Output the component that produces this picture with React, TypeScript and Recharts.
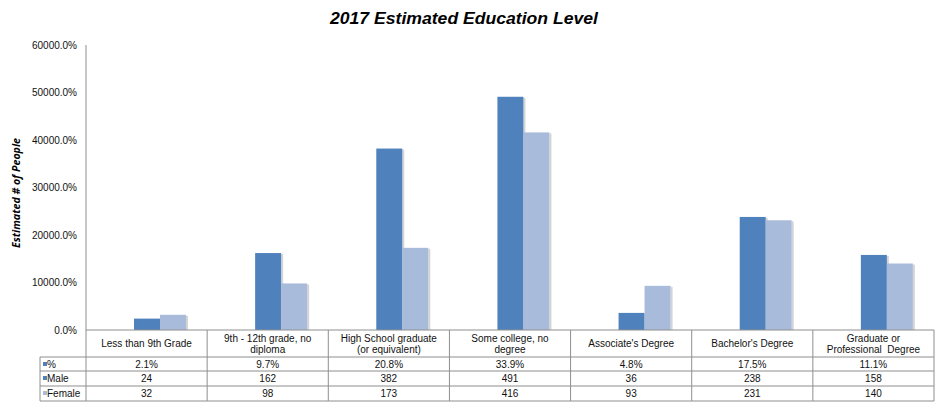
// App.tsx
import React from 'react';
import { Bar, BarChart, XAxis, YAxis } from 'recharts';

const categories = [
  'Less than 9th Grade',
  '9th - 12th grade, no\ndiploma',
  'High School graduate\n(or equivalent)',
  'Some college, no\ndegree',
  "Associate's Degree",
  "Bachelor's Degree",
  'Graduate or\nProfessional  Degree',
];
const pctShare = [0.021, 0.097, 0.208, 0.339, 0.048, 0.175, 0.111];
const maleCounts = [24, 162, 382, 491, 36, 238, 158];
const femaleCounts = [32, 98, 173, 416, 93, 231, 140];
const yTicks = [0, 100, 200, 300, 400, 500, 600];

const seriesRows = [
  { key: 'pct', label: '%', color: '#4F81BD' },
  { key: 'male', label: 'Male', color: '#4F81BD' },
  { key: 'female', label: 'Female', color: '#A9BBDB' },
];

const data = categories.map((name, i) => ({
  name,
  pct: pctShare[i],
  male: maleCounts[i],
  female: femaleCounts[i],
}));

const CHART_W = 941;
const CHART_H = 402;
const Y_AXIS_W = 86;
const X_AXIS_H = 72;
const MARGIN = { top: 45, right: 7, bottom: 0, left: 0 };
const COL_W = (CHART_W - Y_AXIS_W - MARGIN.right - MARGIN.left) / categories.length;
const BORDER = '#8e8e8e';
const FONT = "'Liberation Sans', Arial, sans-serif";

const fmtPct = (v: number) => `${(v * 100).toFixed(1)}%`;

// rows of the data table under the axis, relative to the axis line
const ROW_TOPS = [27, 41, 56];
const TABLE_BOTTOM = 71;

const TableTick = (props: any) => {
  const { x, y, payload, index } = props;
  const left = x - COL_W / 2;
  const right = x + COL_W / 2;
  const lines = String(payload.value).split('\n');
  const row = data[index];
  const values = [fmtPct(row.pct), String(row.male), String(row.female)];

  return (
    <g fontFamily={FONT} fontSize={10} fill="#111">
      {lines.map((ln, i) => (
        <text
          key={i}
          x={x}
          y={y + (lines.length === 1 ? 17 : 12 + i * 11)}
          textAnchor="middle"
          style={{ whiteSpace: 'pre' }}
        >
          {ln}
        </text>
      ))}
      {values.map((v, i) => (
        <text key={'v' + i} x={x} y={y + ROW_TOPS[i] + 11} textAnchor="middle">
          {v}
        </text>
      ))}
      <line x1={right} x2={right} y1={y} y2={y + TABLE_BOTTOM} stroke={BORDER} />
      {index === 0 && <line x1={left} x2={left} y1={y} y2={y + TABLE_BOTTOM} stroke={BORDER} />}
      {[...ROW_TOPS, TABLE_BOTTOM].map((ry, i) => (
        <line
          key={'h' + i}
          x1={index === 0 ? 40 : left}
          x2={right}
          y1={y + ry}
          y2={y + ry}
          stroke={BORDER}
        />
      ))}
      {index === 0 && (
        <g>
          <line x1={40} x2={40} y1={y + ROW_TOPS[0]} y2={y + TABLE_BOTTOM} stroke={BORDER} />
          {seriesRows.map((s, i) => (
            <g key={s.key}>
              <rect x={43} y={y + ROW_TOPS[i] + 5} width={4} height={4} fill={s.color} />
              <text x={47} y={y + ROW_TOPS[i] + 11}>
                {s.label}
              </text>
            </g>
          ))}
        </g>
      )}
    </g>
  );
};

const ShadowBar = (props: any) => {
  const { x, y, width, height, fill } = props;
  if (!height || height < 0.5) return null;
  return (
    <g>
      <rect x={x + width} y={y + 1} width={2} height={height - 1} fill="#d4d4d4" />
      <rect x={x} y={y} width={width} height={height} fill={fill} />
    </g>
  );
};

const App: React.FC = () => {
  return (
    <div style={{ position: 'absolute', left: 0, top: 0, width: CHART_W, height: CHART_H, background: '#fff' }}>
      <BarChart
        width={CHART_W}
        height={CHART_H}
        data={data}
        margin={MARGIN}
        barGap={0}
        barSize={26}
      >
        <XAxis
          dataKey="name"
          interval={0}
          height={X_AXIS_H}
          tickLine={false}
          tickSize={0}
          tickMargin={0}
          axisLine={{ stroke: BORDER }}
          tick={<TableTick />}
        />
        <YAxis
          width={Y_AXIS_W}
          domain={[0, 600]}
          ticks={yTicks}
          tickFormatter={fmtPct}
          tickLine={false}
          tickSize={0}
          tickMargin={9}
          axisLine={{ stroke: BORDER }}
          tick={{ fontSize: 10, fill: '#111', fontFamily: FONT }}
        />
        {seriesRows.map((s) => (
          <Bar
            key={s.key}
            dataKey={s.key}
            name={s.label}
            fill={s.color}
            shape={<ShadowBar />}
            isAnimationActive={false}
          />
        ))}
      </BarChart>
      <svg
        width={CHART_W}
        height={CHART_H}
        style={{ position: 'absolute', left: 0, top: 0, pointerEvents: 'none' }}
      >
        <text
          x={464}
          y={24}
          textAnchor="middle"
          fontFamily={FONT}
          fontSize={16}
          fontWeight="bold"
          fontStyle="italic"
          textLength={268}
          lengthAdjust="spacingAndGlyphs"
        >
          2017 Estimated Education Level
        </text>
        <text
          transform="translate(20,193) rotate(-90)"
          textAnchor="middle"
          fontFamily="'Open Sans', sans-serif"
          fontSize={10.5}
          fontWeight="bold"
          fontStyle="italic"
          textLength={110}
          lengthAdjust="spacingAndGlyphs"
        >
          Estimated # of People
        </text>
      </svg>
    </div>
  );
};

export default App;
